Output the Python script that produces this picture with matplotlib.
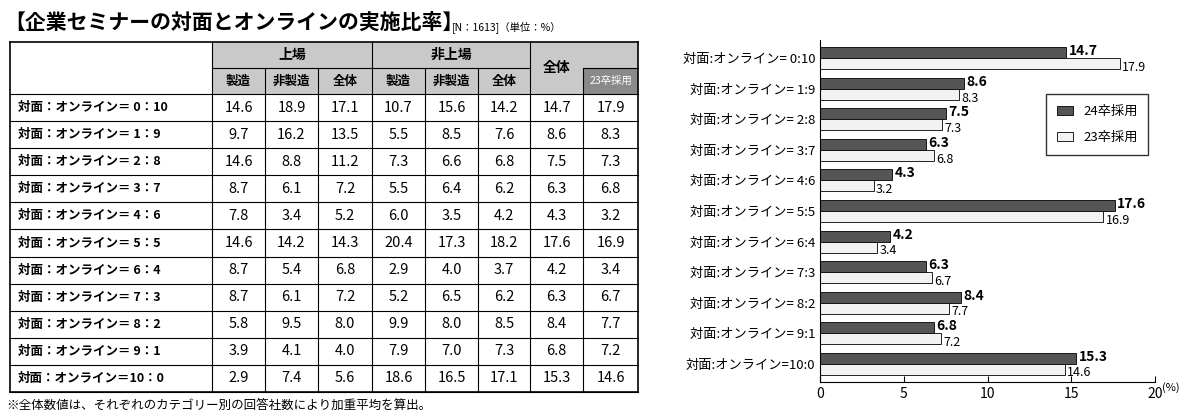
import matplotlib.pyplot as plt
import numpy as np
from matplotlib.patches import Rectangle

plt.rcParams['font.family'] = ['Noto Sans CJK JP', 'DejaVu Sans']

row_labels = ['対面：オンライン＝ 0：10', '対面：オンライン＝ 1：9', '対面：オンライン＝ 2：8',
              '対面：オンライン＝ 3：7', '対面：オンライン＝ 4：6', '対面：オンライン＝ 5：5',
              '対面：オンライン＝ 6：4', '対面：オンライン＝ 7：3', '対面：オンライン＝ 8：2',
              '対面：オンライン＝ 9：1', '対面：オンライン＝10：0']
bar_labels = ['対面:オンライン= 0:10', '対面:オンライン= 1:9', '対面:オンライン= 2:8',
              '対面:オンライン= 3:7', '対面:オンライン= 4:6', '対面:オンライン= 5:5',
              '対面:オンライン= 6:4', '対面:オンライン= 7:3', '対面:オンライン= 8:2',
              '対面:オンライン= 9:1', '対面:オンライン=10:0']
listed_mfg = [14.6, 9.7, 14.6, 8.7, 7.8, 14.6, 8.7, 8.7, 5.8, 3.9, 2.9]
listed_non = [18.9, 16.2, 8.8, 6.1, 3.4, 14.2, 5.4, 6.1, 9.5, 4.1, 7.4]
listed_all = [17.1, 13.5, 11.2, 7.2, 5.2, 14.3, 6.8, 7.2, 8.0, 4.0, 5.6]
unlisted_mfg = [10.7, 5.5, 7.3, 5.5, 6.0, 20.4, 2.9, 5.2, 9.9, 7.9, 18.6]
unlisted_non = [15.6, 8.5, 6.6, 6.4, 3.5, 17.3, 4.0, 6.5, 8.0, 7.0, 16.5]
unlisted_all = [14.2, 7.6, 6.8, 6.2, 4.2, 18.2, 3.7, 6.2, 8.5, 7.3, 17.1]
total_24 = [14.7, 8.6, 7.5, 6.3, 4.3, 17.6, 4.2, 6.3, 8.4, 6.8, 15.3]
total_23 = [17.9, 8.3, 7.3, 6.8, 3.2, 16.9, 3.4, 6.7, 7.7, 7.2, 14.6]

fig = plt.figure(figsize=(12, 4.18), dpi=100)
bg = fig.add_axes([0, 0, 1, 1])
bg.set_xlim(0, 1200)
bg.set_ylim(418, 0)
bg.axis('off')

bg.text(4, 22, '【企業セミナーの対面とオンラインの実施比率】', fontsize=15, fontweight='bold', va='center')
bg.text(452, 27, '[N：1613]（単位：%）', fontsize=7.5, va='center')

# table
xs = [10, 212, 265, 318, 372, 425, 478, 530, 583, 638]
y0, y1, y2 = 42, 68, 94
rh = (392 - y2) / 11
gray = '#c9c9c9'
bg.add_patch(Rectangle((212, y0), 638 - 212, y2 - y0, facecolor=gray, edgecolor='none'))
bg.add_patch(Rectangle((583, y1), 55, y2 - y1, facecolor='#8a8a8a', edgecolor='none'))
lw = 0.8
for i in range(12):
    bg.plot([10, 638], [y2 + i * rh] * 2, color='k', lw=lw)
bg.plot([10, 638], [y0, y0], color='k', lw=1.2)
bg.plot([212, 530], [y1, y1], color='k', lw=lw)
bg.plot([583, 638], [y1, y1], color='k', lw=lw)
for x in xs:
    top = y0 if x in (10, 212, 372, 530, 638) else y1
    bg.plot([x, x], [top, 392], color='k', lw=lw if x not in (10, 638) else 1.2)
bg.plot([10, 638], [392, 392], color='k', lw=1.2)

hk = dict(fontsize=10, fontweight='bold', ha='center', va='center')
bg.text(292, (y0 + y1) / 2, '上場', **hk)
bg.text(451, (y0 + y1) / 2, '非上場', **hk)
bg.text(556.5, (y0 + y2) / 2, '全体', **hk)
sub = ['製造', '非製造', '全体', '製造', '非製造', '全体']
for j, s in enumerate(sub):
    bg.text((xs[j + 1] + xs[j + 2]) / 2, (y1 + y2) / 2, s, fontsize=9, fontweight='bold', ha='center', va='center')
bg.text(610.5, (y1 + y2) / 2, '23卒採用', fontsize=7.5, color='white', ha='center', va='center')

cols = [listed_mfg, listed_non, listed_all, unlisted_mfg, unlisted_non, unlisted_all, total_24, total_23]
for i, lab in enumerate(row_labels):
    yc = y2 + (i + 0.5) * rh
    bg.text(18, yc, lab, fontsize=9, fontweight='bold', va='center')
    for j, col in enumerate(cols):
        bg.text((xs[j + 1] + xs[j + 2]) / 2, yc, f'{col[i]:.1f}', fontsize=10.5, ha='center', va='center')

bg.text(6, 405, '※全体数値は、それぞれのカテゴリー別の回答社数により加重平均を算出。', fontsize=9, va='center')

# bar chart
ax = fig.add_axes([820 / 1200, (418 - 382) / 418, 335 / 1200, (382 - 40) / 418])
y = np.arange(len(bar_labels))
h = 0.36
ax.barh(y - h / 2, total_24, height=h, color='#555555', edgecolor='k', lw=0.6, label='24卒採用')
ax.barh(y + h / 2, total_23, height=h, color='#f2f2f2', edgecolor='k', lw=0.6, label='23卒採用')
for i in range(len(y)):
    ax.text(total_24[i] + 0.15, y[i] - h / 2 - 0.05, f'{total_24[i]:.1f}', fontsize=10, fontweight='bold', va='center')
    ax.text(total_23[i] + 0.15, y[i] + h / 2 + 0.12, f'{total_23[i]:.1f}', fontsize=9, va='center')
ax.set_yticks(y)
ax.set_yticklabels(bar_labels, fontsize=9.5)
ax.set_ylim(len(y) - 0.4, -0.6)
ax.set_xlim(0, 20)
ax.set_xticks([0, 5, 10, 15, 20])
ax.set_xticklabels(['0', '5', '10', '15', '20'], fontsize=10)
ax.tick_params(axis='y', length=0)
ax.tick_params(axis='x', direction='in', length=4)
for s in ['top', 'right']:
    ax.spines[s].set_visible(False)
ax.text(20.4, len(y) - 0.4, '(%)', fontsize=8, va='top')
ax.legend(loc='upper right', bbox_to_anchor=(1.0, 0.86), fontsize=9.5, frameon=True, fancybox=False,
          edgecolor='k', handlelength=1.2, labelspacing=1.0, borderpad=0.8)

fig.savefig('out.png', dpi=100)
